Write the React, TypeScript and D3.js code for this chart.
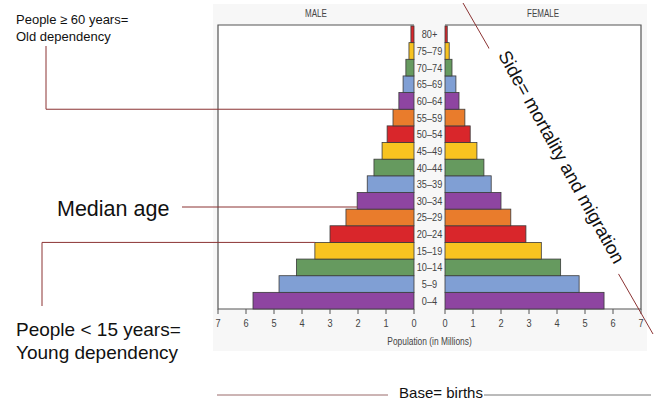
import React from "react";
import * as d3 from "d3";

const ageGroups = ["0–4","5–9","10–14","15–19","20–24","25–29","30–34","35–39","40–44","45–49","50–54","55–59","60–64","65–69","70–74","75–79","80+"];
const maleValues = [5.75, 4.82, 4.2, 3.54, 3.0, 2.43, 2.03, 1.67, 1.43, 1.14, 0.96, 0.75, 0.54, 0.39, 0.29, 0.18, 0.11];
const femaleValues = [5.68, 4.79, 4.13, 3.44, 2.89, 2.35, 2.0, 1.65, 1.39, 1.14, 0.9, 0.71, 0.5, 0.39, 0.25, 0.15, 0.08];
const bandColors = ["#8e45a1", "#809fd4", "#669a5f", "#f8c320", "#d9262b", "#e97c2c"];
const tickValues = [0, 1, 2, 3, 4, 5, 6, 7];

const sans = "'Liberation Sans', Arial, sans-serif";
const maroon = "#8b3333";

function Narrow({ x, y, size, children, fill = "#444" }: { x: number; y: number; size: number; children: React.ReactNode; fill?: string }) {
  return (
    <g transform={`translate(${x},${y}) scale(0.8,1)`}>
      <text x={0} y={0} textAnchor="middle" fontFamily={sans} fontSize={size} fill={fill}>{children}</text>
    </g>
  );
}

export default function App() {
  const xL = d3.scaleLinear().domain([0, 7]).range([414, 218]);
  const xR = d3.scaleLinear().domain([0, 7]).range([445, 641]);
  const y = d3.scaleBand().domain(ageGroups).range([309, 26]).padding(0);
  const bh = y.bandwidth();
  const axisY = 309;
  const topY = 25;

  const sideAngle = 61;
  const sx = 556, sy = 160;

  return (
    <svg width={660} height={400} style={{ position: "absolute", left: 0, top: 0, background: "#fff" }}>
      <rect x={213} y={4} width={434} height={347} fill="#f7f7f7" />

      {/* headers */}
      <Narrow x={316} y={17} size={10}>MALE</Narrow>
      <Narrow x={543} y={17} size={10}>FEMALE</Narrow>

      {/* frames */}
      <path d={`M${xL(0)},${topY}H${xL(7)}V${axisY}H${xL(0)}`} fill="#fff" stroke="#555" strokeWidth={1.2} />
      <path d={`M${xR(0)},${topY}H${xR(7)}V${axisY}H${xR(0)}`} fill="#fff" stroke="#555" strokeWidth={1.2} />

      {/* bars */}
      {ageGroups.map((g, i) => (
        <g key={g}>
          <rect x={xL(maleValues[i])} y={y(g)} width={xL(0) - xL(maleValues[i])} height={bh}
            fill={bandColors[i % bandColors.length]} stroke="#3a3a3a" strokeWidth={0.8} />
          <rect x={xR(0)} y={y(g)} width={xR(femaleValues[i]) - xR(0)} height={bh}
            fill={bandColors[i % bandColors.length]} stroke="#3a3a3a" strokeWidth={0.8} />
          <Narrow x={429.5} y={(y(g) as number) + bh / 2 + 4} size={11.5}>{g}</Narrow>
        </g>
      ))}

      {/* axes */}
      {tickValues.map((t) => (
        <g key={"t" + t}>
          <line x1={xL(t)} x2={xL(t)} y1={axisY} y2={axisY + 5} stroke="#555" />
          <Narrow x={xL(t)} y={axisY + 18} size={11.5}>{t}</Narrow>
          <line x1={xR(t)} x2={xR(t)} y1={axisY} y2={axisY + 5} stroke="#555" />
          <Narrow x={xR(t)} y={axisY + 18} size={11.5}>{t}</Narrow>
        </g>
      ))}
      <Narrow x={429.5} y={345} size={10.5}>Population (in Millions)</Narrow>

      {/* annotations */}
      <text x={16} y={24} fontFamily={sans} fontSize={13} fill="#111">People ≥ 60 years=</text>
      <text x={16} y={41} fontFamily={sans} fontSize={13} fill="#111">Old dependency</text>
      <path d={`M46,46V${(y("60–64") as number) + bh}H${xL(maleValues[11])}`} fill="none" stroke={maroon} strokeWidth={1} />

      <text x={57} y={216} fontFamily={sans} fontSize={21.5} fill="#111">Median age</text>
      <path d={`M182,207H${xL(maleValues[6])}`} fill="none" stroke={maroon} strokeWidth={1} />

      <path d={`M42,306V${y("15–19") as number}H${xL(maleValues[3])}`} fill="none" stroke={maroon} strokeWidth={1} />
      <text x={16} y={336} fontFamily={sans} fontSize={19} fill="#111">People &lt; 15 years=</text>
      <text x={16} y={359} fontFamily={sans} fontSize={19} fill="#111">Young dependency</text>

      {/* side diagonal */}
      <line x1={463} y1={3} x2={653} y2={334} stroke={maroon} strokeWidth={1} />
      <g transform={`translate(${sx},${sy}) rotate(${sideAngle})`}>
        <rect x={-130} y={-19} width={260} height={28} fill="#fff" />
        <text x={0} y={0} textAnchor="middle" fontFamily={sans} fontSize={18.5} fill="#111">Side= mortality and migration</text>
      </g>

      {/* base */}
      <line x1={217} x2={388} y1={395} y2={395} stroke="#9a6a6a" strokeWidth={1} />
      <text x={441} y={398} textAnchor="middle" fontFamily={sans} fontSize={15} fill="#111">Base= births</text>
      <line x1={484} x2={651} y1={395} y2={395} stroke="#777" strokeWidth={1} />
    </svg>
  );
}
